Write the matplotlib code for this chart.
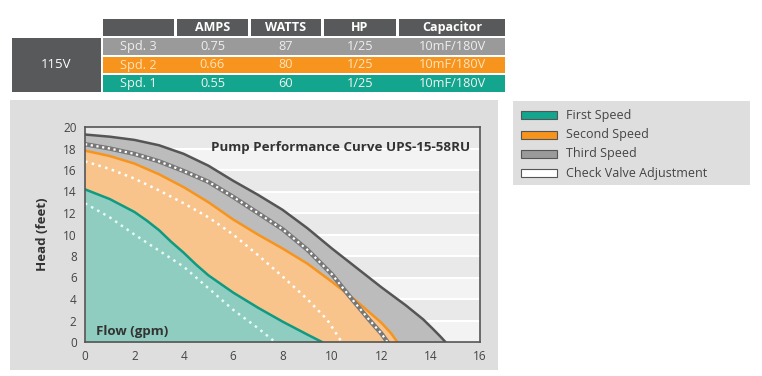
import matplotlib
matplotlib.use("Agg")
import matplotlib.pyplot as plt
from matplotlib.patches import Rectangle

plt.rcParams['font.family'] = ['Open Sans', 'DejaVu Sans']

# Spec table
table_cols = ["", "AMPS", "WATTS", "HP", "Capacitor"]
table_rows = [
    ["Spd. 3", "0.75", "87", "1/25", "10mF/180V"],
    ["Spd. 2", "0.66", "80", "1/25", "10mF/180V"],
    ["Spd. 1", "0.55", "60", "1/25", "10mF/180V"],
]
voltage = "115V"

# Pump curves (flow gpm, head feet)
third_x = [0, 1, 2, 3, 4, 5, 6, 7, 8, 9, 10, 11, 12, 13, 13.7, 14.1, 14.4, 14.6]
third_y = [19.3, 19.1, 18.8, 18.3, 17.5, 16.4, 15.0, 13.7, 12.3, 10.6, 8.7, 6.9, 5.1, 3.4, 2.1, 1.2, 0.5, 0]
third_cv_x = [0, 1, 2, 3, 4, 5, 6, 7, 8, 9, 10, 10.7, 11.5, 12, 12.25]
third_cv_y = [18.4, 18.0, 17.5, 16.8, 15.9, 14.9, 13.5, 12.0, 10.5, 8.6, 6.3, 4.3, 2.1, 0.8, 0]

second_x = [0, 1, 2, 3, 4, 5, 6, 7, 8, 9, 10, 11, 12, 12.4, 12.65]
second_y = [17.8, 17.3, 16.6, 15.6, 14.4, 13.0, 11.4, 10.0, 8.7, 7.3, 5.6, 3.8, 1.8, 0.8, 0]
second_cv_x = [0, 1, 2, 3, 4, 5, 6, 7, 8, 9, 9.8, 10.4]
second_cv_y = [16.8, 16.1, 15.2, 14.1, 12.9, 11.6, 10.0, 8.1, 6.1, 4.0, 2.1, 0]

first_x = [0, 1, 2, 2.5, 3, 3.5, 4, 4.5, 5, 5.5, 6, 7, 8, 9, 9.6]
first_y = [14.2, 13.3, 12.1, 11.3, 10.4, 9.3, 8.3, 7.2, 6.2, 5.4, 4.6, 3.2, 1.9, 0.7, 0]
first_cv_x = [0, 1, 2, 3, 4, 5, 6, 7, 7.7]
first_cv_y = [12.9, 11.6, 10.0, 8.5, 7.0, 5.0, 3.0, 1.3, 0]

legend_labels = ["First Speed", "Second Speed", "Third Speed", "Check Valve Adjustment"]

teal = "#13a58d"
orange = "#f7941d"
gray = "#9a9a9a"
dark = "#58595b"

fig = plt.figure(figsize=(7.62, 3.76), dpi=100)
fig.patch.set_facecolor("white")

# background canvas in pixel coordinates
bg = fig.add_axes([0, 0, 1, 1])
bg.set_xlim(0, 762)
bg.set_ylim(376, 0)
bg.axis("off")

# table
col_edges = [(103, 174), (177, 248), (251, 321), (324, 396), (399, 505)]
for (x0, x1), name in zip(col_edges, table_cols):
    bg.add_patch(Rectangle((x0, 19), x1 - x0, 17, color=dark, lw=0))
    bg.text((x0 + x1) / 2, 27.5, name, color="white", fontsize=9, fontweight="bold",
            ha="center", va="center")
row_colors = [gray, orange, teal]
row_text = ["#eeeeee", "#fde3bd", "#f2f2f2"]
row_tops = [38, 56.5, 75]
for row, c, tc, top in zip(table_rows, row_colors, row_text, row_tops):
    bg.add_patch(Rectangle((103, top), 402, 16.5, color=c, lw=0))
    for (x0, x1), val in zip(col_edges, row):
        bg.text((x0 + x1) / 2, top + 8.5, val, color=tc, fontsize=9.2,
                ha="center", va="center")
bg.add_patch(Rectangle((12, 38), 88.5, 53.5, color=dark, lw=0))
bg.text(56, 64.5, voltage, color="white", fontsize=9.5, ha="center", va="center")

# chart panel and legend panel
bg.add_patch(Rectangle((10, 100), 488, 270, color="#dedede", lw=0))
bg.add_patch(Rectangle((513, 101), 237, 84, color="#dedede", lw=0))
leg_colors = [teal, orange, gray, "white"]
leg_y = [115, 134.5, 154, 173]
for c, yy, lab in zip(leg_colors, leg_y, legend_labels):
    bg.add_patch(Rectangle((521, yy - 4), 36, 8, facecolor=c, edgecolor="#555555", lw=0.8))
    bg.text(566, yy, lab, fontsize=9, color="#444444", va="center", ha="left")

# plot axes
ax = fig.add_axes([85 / 762, (376 - 342) / 376, 395 / 762, 215 / 376])
ax.set_xlim(0, 16)
ax.set_ylim(0, 20)

# striped background
for k in range(10):
    ax.axhspan(2 * k, 2 * k + 2, color="#e9e9e9" if k % 2 == 1 else "#f3f3f3", lw=0, zorder=0)
    ax.axhline(2 * k, color="white", lw=1.5, zorder=0.5)

ax.fill_between(third_x, third_y, 0, color="#bcbcbc", lw=0, zorder=1)
ax.fill_between(second_x, second_y, 0, color="#f8c48c", lw=0, zorder=2)
ax.fill_between(first_x, first_y, 0, color="#8ecdbf", lw=0, zorder=3)

line_kw = dict(lw=1.8, solid_joinstyle="round", solid_capstyle="round", zorder=5)
ax.plot(third_x, third_y, color="#555555", **line_kw)
ax.plot(second_x, second_y, color=orange, **line_kw)
ax.plot(first_x, first_y, color="#0f9a82", **line_kw)

ax.plot(third_cv_x, third_cv_y, color="#777777", lw=3.2, solid_joinstyle="round", zorder=6)
ax.plot(third_cv_x, third_cv_y, color="white", lw=1.6, ls=(0, (1, 1.6)), zorder=7)
ax.plot(second_cv_x, second_cv_y, color="white", lw=1.8, ls=(0, (1, 1.8)), zorder=7)
ax.plot(first_cv_x, first_cv_y, color="#e6fbf6", lw=1.8, ls=(0, (1, 1.8)), zorder=7)

ax.set_xticks(range(0, 17, 2))
ax.set_yticks(range(0, 21, 2))
ax.tick_params(length=0, labelsize=8.5, labelcolor="#444444", pad=6)
for s in ax.spines.values():
    s.set_color("#555555")
    s.set_linewidth(1.2)
    s.set_zorder(8)

ax.set_ylabel("Head (feet)", fontsize=9.5, fontweight="bold", color="#333333", labelpad=10)
ax.text(15.6, 18.1, "Pump Performance Curve UPS-15-58RU", fontsize=9.6, fontweight="bold",
        color="#333333", ha="right", va="center", zorder=9)
ax.text(0.45, 1.0, "Flow (gpm)", fontsize=9.5, fontweight="bold", color="#333333",
        ha="left", va="center", zorder=9)

plt.savefig("out.png", dpi=100)
